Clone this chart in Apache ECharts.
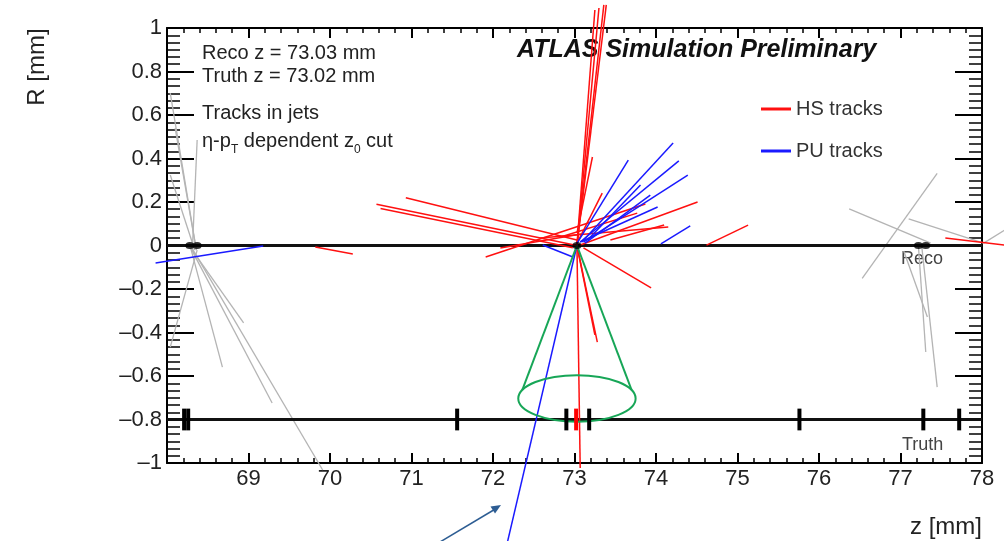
<!DOCTYPE html>
<html>
<head>
<meta charset="utf-8">
<script src="https://cdn.jsdelivr.net/npm/echarts@6/dist/echarts.min.js"></script>
<style>
  html, body { margin: 0; padding: 0; background: #fff; }
  #chart { width: 1004px; height: 541px; }
</style>
</head>
<body>
<div id="chart"></div>
<script>
// Vertex positions along the beam line (mm)
const recoZ = 73.03;
const truthZ = 73.02;

// Axis ticks and their labels
const xTickValues = [68, 69, 70, 71, 72, 73, 74, 75, 76, 77, 78];
const xTickLabels = ['', '69', '70', '71', '72', '73', '74', '75', '76', '77', '78'];
const yTickValues = [-1, -0.8, -0.6, -0.4, -0.2, 0, 0.2, 0.4, 0.6, 0.8, 1];
const yTickLabels = ['\u20131', '\u20130.8', '\u20130.6', '\u20130.4', '\u20130.2', '0', '0.2', '0.4', '0.6', '0.8', '1'];

// Reference lines: reconstructed vertex axis (R = 0) and truth vertex axis (R = -0.8)
const axisLines = [
  [68, 0, 78, 0],
  [68, -0.8, 78, -0.8]
];

// Track segments [z1, R1, z2, R2]
const hsTracks = [
  [70.57, 0.19, 73.03, 0.0],
  [70.62, 0.17, 72.98, -0.01],
  [70.93, 0.22, 73.03, 0.025],
  [71.91, -0.053, 73.87, 0.191],
  [72.58, 0.034, 74.15, 0.085],
  [73.07, 0.002, 74.51, 0.20],
  [73.03, 0.01, 73.34, 0.241],
  [73.03, 0.057, 73.22, 0.407],
  [73.44, 0.025, 74.10, 0.094],
  [74.62, 0.002, 75.13, 0.094],
  [69.82, -0.007, 70.28, -0.039],
  [72.83, 0.039, 73.77, 0.149],
  [72.09, -0.011, 73.08, 0.053],
  [73.03, 0.0, 73.36, 1.106],
  [73.03, 0.0, 73.30, 1.092],
  [73.03, 0.0, 73.39, 1.106],
  [73.03, 0.0, 73.25, 1.083],
  [73.03, 0.0, 73.07, -1.023],
  [73.03, 0.0, 73.28, -0.444],
  [73.03, 0.0, 73.25, -0.411],
  [73.11, -0.011, 73.94, -0.195],
  [77.55, 0.034, 78.28, 0.002]
];

const puTracks = [
  [73.03, 0.01, 73.66, 0.393],
  [73.09, 0.016, 74.21, 0.471],
  [73.07, 0.016, 74.28, 0.389],
  [73.11, 0.016, 74.39, 0.324],
  [73.16, 0.025, 73.81, 0.278],
  [73.07, 0.016, 74.02, 0.177],
  [74.06, 0.007, 74.42, 0.09],
  [73.13, 0.011, 73.93, 0.232],
  [72.61, 0.002, 72.98, -0.053],
  [73.03, 0.0, 72.18, -1.359],
  [67.86, -0.08, 69.18, -0.002]
];

const otherTracks = [
  [68.04, 0.701, 68.36, -0.021],
  [68.10, 0.540, 68.36, -0.021],
  [68.37, 0.485, 68.31, -0.03],
  [68.04, 0.324, 68.34, -0.021],
  [68.29, -0.011, 68.94, -0.356],
  [68.29, -0.011, 68.68, -0.559],
  [68.29, -0.011, 69.29, -0.724],
  [68.29, -0.002, 69.91, -1.032],
  [68.37, -0.021, 68.04, -0.467],
  [77.45, 0.332, 76.53, -0.151],
  [76.37, 0.168, 77.37, 0.011],
  [77.10, 0.122, 78.02, 0.011],
  [78.02, 0.011, 78.28, 0.071],
  [77.22, -0.002, 77.31, -0.49],
  [77.26, -0.002, 77.45, -0.651],
  [77.04, -0.025, 77.33, -0.329]
];

// Jet cone drawn from the reconstructed vertex
const coneSides = [
  [recoZ, 0, 72.36, -0.664],
  [recoZ, 0, 73.70, -0.664]
];
const coneBase = [[recoZ, -0.703, 0.72, 0.107]]; // [z centre, R centre, z half-width, R half-height]

// Vertex markers
const recoVertexZ = [68.28, 68.37, recoZ, 77.22, 77.31];
const truthVertexZ = [68.21, 68.26, 71.56, 72.90, 73.18, 75.76, 77.28, 77.72];
const hsTruthVertexZ = [truthZ];
const truthLevel = -0.8;

const FONT = "'Liberation Sans', Arial, Helvetica, sans-serif";
const RED = '#ff1010';
const BLUE = '#1a1aff';
const GRAY = '#b4b4b4';
const GREEN = '#17a657';
const TEXT = '#222';

function segmentRenderer(color, width) {
  return function (params, api) {
    const p1 = api.coord([api.value(0), api.value(1)]);
    const p2 = api.coord([api.value(2), api.value(3)]);
    return {
      type: 'line',
      shape: { x1: p1[0], y1: p1[1], x2: p2[0], y2: p2[1] },
      style: { stroke: color, lineWidth: width, fill: null }
    };
  };
}

function segmentSeries(name, data, color, width, z) {
  return {
    name: name,
    type: 'custom',
    data: data,
    encode: { x: [0, 2], y: [1, 3] },
    renderItem: segmentRenderer(color, width),
    itemStyle: { color: color },
    clip: false,
    silent: true,
    z: z
  };
}

function truthMarkerRenderer(color) {
  return function (params, api) {
    const top = api.coord([api.value(0), truthLevel + 0.05]);
    const bot = api.coord([api.value(0), truthLevel - 0.05]);
    return {
      type: 'line',
      shape: { x1: top[0], y1: top[1], x2: bot[0], y2: bot[1] },
      style: { stroke: color, lineWidth: 4 }
    };
  };
}

// Lay out a line of text with subscripts as consecutive text pieces
const measureCtx = document.createElement('canvas').getContext('2d');
function textWidth(str, font) {
  measureCtx.font = font;
  return measureCtx.measureText(str).width;
}
function subscriptLine(parts, x0, yMain, ySub) {
  const mainFont = '20px ' + FONT;
  const subFont = '12px ' + FONT;
  const out = [];
  let x = x0;
  parts.forEach(function (p) {
    const font = p.sub ? subFont : mainFont;
    out.push({
      type: 'text', x: x, y: p.sub ? ySub : yMain, silent: true,
      style: { text: p.text, font: font, fill: TEXT, verticalAlign: 'middle', align: 'left' }
    });
    x += textWidth(p.text, font);
  });
  return out;
}

const chart = echarts.init(document.getElementById('chart'), null, { renderer: 'canvas' });

const xAxisBase = {
  type: 'value', min: 68, max: 78, interval: 1,
  axisLine: { show: true, onZero: false, lineStyle: { color: '#000', width: 2 } },
  axisTick: { show: true, inside: true, length: 10, lineStyle: { color: '#000', width: 2 } },
  minorTick: { show: true, splitNumber: 5, length: 5, lineStyle: { color: '#000', width: 1.5 } },
  splitLine: { show: false },
  minorSplitLine: { show: false }
};
const yAxisBase = {
  type: 'value', min: -1, max: 1, interval: 0.2,
  axisLine: { show: true, onZero: false, lineStyle: { color: '#000', width: 2 } },
  axisTick: { show: true, inside: true, length: 27, lineStyle: { color: '#000', width: 2 } },
  minorTick: { show: true, splitNumber: 6, length: 13, lineStyle: { color: '#000', width: 1.5 } },
  splitLine: { show: false },
  minorSplitLine: { show: false }
};

const cutLabel = subscriptLine([
  { text: '\u03b7-p' }, { text: 'T', sub: true },
  { text: ' dependent z' }, { text: '0', sub: true },
  { text: ' cut' }
], 202, 141, 149.5);

const option = {
  animation: false,
  backgroundColor: '#fff',
  grid: { left: 167, right: 22, top: 28, bottom: 78, containLabel: false },
  xAxis: [
    Object.assign({}, xAxisBase, {
      position: 'bottom',
      axisLabel: {
        show: true, margin: 5, fontSize: 22, fontFamily: FONT, color: TEXT,
        formatter: function (v) {
          const i = xTickValues.indexOf(Math.round(v));
          return i >= 0 ? xTickLabels[i] : '';
        }
      }
    }),
    Object.assign({}, xAxisBase, { position: 'top', axisLabel: { show: false } })
  ],
  yAxis: [
    Object.assign({}, yAxisBase, {
      position: 'left',
      axisLabel: {
        show: true, margin: 5, fontSize: 22, fontFamily: FONT, color: TEXT,
        showMinLabel: true, showMaxLabel: true,
        formatter: function (v) {
          return yTickLabels[Math.round((v + 1) / 0.2)];
        }
      }
    }),
    Object.assign({}, yAxisBase, { position: 'right', axisLabel: { show: false } })
  ],
  legend: {
    orient: 'vertical', left: 756, top: 94,
    itemWidth: 30, itemHeight: 3, itemGap: 22,
    icon: 'rect',
    selectedMode: false,
    textStyle: { fontSize: 20, fontFamily: FONT, color: '#333', lineHeight: 20 },
    data: ['HS tracks', 'PU tracks']
  },
  series: [
    segmentSeries('other', otherTracks, GRAY, 1.3, 1),
    segmentSeries('axes', axisLines, '#111', 3, 2),
    segmentSeries('HS tracks', hsTracks, RED, 1.5, 3),
    segmentSeries('PU tracks', puTracks, BLUE, 1.5, 4),
    segmentSeries('cone', coneSides, GREEN, 2, 5),
    {
      name: 'cone base', type: 'custom', data: coneBase, clip: false, silent: true, z: 5,
      encode: { x: 0, y: 1 },
      renderItem: function (params, api) {
        const c = api.coord([api.value(0), api.value(1)]);
        const s = api.size([api.value(2), api.value(3)]);
        return {
          type: 'ellipse',
          shape: { cx: c[0], cy: c[1], rx: s[0], ry: s[1] },
          style: { fill: null, stroke: GREEN, lineWidth: 2 }
        };
      }
    },
    {
      name: 'truth vertices', type: 'custom', silent: true, z: 6, clip: false,
      data: truthVertexZ.map(function (z) { return [z, truthLevel]; }),
      encode: { x: 0, y: 1 },
      renderItem: truthMarkerRenderer('#000')
    },
    {
      name: 'HS truth vertex', type: 'custom', silent: true, z: 7, clip: false,
      data: hsTruthVertexZ.map(function (z) { return [z, truthLevel]; }),
      encode: { x: 0, y: 1 },
      renderItem: truthMarkerRenderer('#ff0000')
    },
    {
      name: 'reco vertices', type: 'scatter', silent: true, z: 6,
      data: recoVertexZ.map(function (z) { return [z, 0]; }),
      symbol: 'circle', symbolSize: [9, 7],
      itemStyle: { color: '#000' }
    }
  ],
  graphic: [
    { type: 'text', left: 517, top: 38, silent: true,
      style: { text: 'ATLAS Simulation Preliminary', font: 'italic bold 25px ' + FONT, fill: '#111' } },
    { type: 'text', x: 202, y: 53, silent: true,
      style: { text: 'Reco z = 73.03 mm', font: '20px ' + FONT, fill: TEXT, verticalAlign: 'middle', align: 'left' } },
    { type: 'text', x: 202, y: 76, silent: true,
      style: { text: 'Truth z = 73.02 mm', font: '20px ' + FONT, fill: TEXT, verticalAlign: 'middle', align: 'left' } },
    { type: 'text', x: 202, y: 113.5, silent: true,
      style: { text: 'Tracks in jets', font: '20px ' + FONT, fill: TEXT, verticalAlign: 'middle', align: 'left' } }
  ].concat(cutLabel).concat([
    { type: 'text', x: 901, y: 259, silent: true,
      style: { text: 'Reco', font: '18px ' + FONT, fill: '#444', verticalAlign: 'middle', align: 'left' } },
    { type: 'text', x: 902, y: 445, silent: true,
      style: { text: 'Truth', font: '18px ' + FONT, fill: '#444', verticalAlign: 'middle', align: 'left' } },
    { type: 'text', x: 37, y: 67, rotation: Math.PI / 2, silent: true,
      style: { text: 'R [mm]', font: '24px ' + FONT, fill: TEXT, verticalAlign: 'middle', align: 'center' } },
    { type: 'text', x: 982, y: 527, silent: true,
      style: { text: 'z [mm]', font: '24px ' + FONT, fill: TEXT, verticalAlign: 'middle', align: 'right' } },
    { type: 'line', silent: true,
      shape: { x1: 440, y1: 542, x2: 497, y2: 508 },
      style: { stroke: '#2d5d93', lineWidth: 1.5 } },
    { type: 'polygon', silent: true,
      shape: { points: [[501, 505], [495, 513.5], [490.5, 506.5]] },
      style: { fill: '#2d5d93' } }
  ])
};

chart.setOption(option);
</script>
</body>
</html>
